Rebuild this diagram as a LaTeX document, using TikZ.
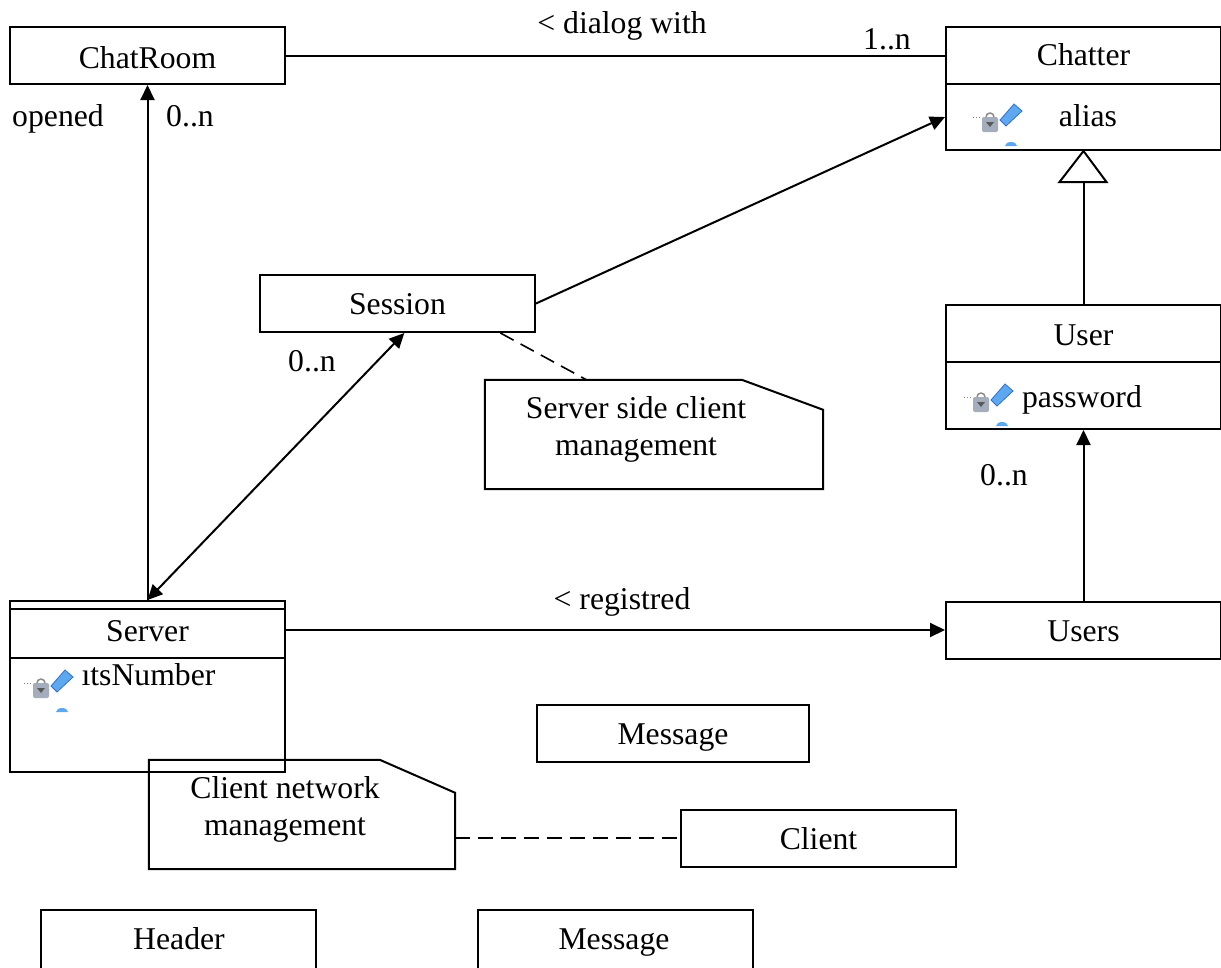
\documentclass[tikz,border=0pt]{standalone}
\usepackage{fontspec}
\setmainfont{Liberation Serif}
\usetikzlibrary{arrows.meta,calc}
\definecolor{keyblue}{HTML}{5EA8F0}
\definecolor{keyedge}{HTML}{2F6FD0}
\definecolor{lockgray}{HTML}{A3ADBB}
\tikzset{
	x=1pt,y=-1pt,
	>={Triangle[length=15pt,width=14pt]},
	every node/.style={font=\fontsize{31.7}{36}\selectfont,inner sep=0pt,anchor=base},
	umlbox/.style={draw,line width=2pt,minimum width=275pt,minimum height=57pt,anchor=center},
	notearea/.style={minimum height=109pt,anchor=center},
	link/.style={line width=2pt},
	dashlink/.style={line width=1.6pt,dash pattern=on 15pt off 8pt},
	attricon/.pic={
		\draw[gray,line width=1pt,dotted] (-9,5) -- (0,5);
		\fill[lockgray,rounded corners=2pt] (0,5) rectangle (16,20);
		\fill[black!65] (4,10) -- (12,10) -- (8,15) -- cycle;
		\draw[black!45,line width=1.5pt] (4,5) arc (180:360:4);
		\fill[keyblue,draw=keyedge,line width=.8pt] (18,8) -- (32,-8) -- (40,-1) -- (24,14) -- cycle;
		\fill[keyblue] (23,34) arc[start angle=180,end angle=360,x radius=6,y radius=4] -- cycle;
	}
}
\begin{document}
\begin{tikzpicture}
	\clip (0,0) rectangle (1221,967);
	\fill[white] (0,0) rectangle (1221,967);
	\node[umlbox] (chatroom) at (147.5,55.5) {};
	\node (chatroomname) at (147.5,68) {ChatRoom};
	\node[umlbox] (chatter) at (1083.5,55.5) {};
	\node (chattername) at (1083.5,65) {Chatter};
	\node[umlbox,minimum height=66pt] (chatterattr) at (1083.5,117) {};
	\node (aliasname) at (1088,126) {alias};
	\node[umlbox] (session) at (397.5,303.5) {};
	\node (sessionname) at (397.5,314) {Session};
	\node[umlbox] (user) at (1083.5,333.5) {};
	\node (username) at (1083.5,345) {User};
	\node[umlbox,minimum height=67pt] (userattr) at (1083.5,395.5) {};
	\node (passwordname) at (1082,407) {password};
	\node[umlbox] (users) at (1083.5,630) {};
	\node (usersname) at (1083.5,641) {Users};
	\node[umlbox,minimum height=171pt] (server) at (147.5,686.5) {};
	\node (servername) at (147.5,641) {Server};
	\node (numbername) at (148.5,685) {ıtsNumber};
	\draw[line width=2pt] (server.north west) ++(0,9) -- ++(275,0);
	\draw[line width=2pt] (server.north west) ++(0,58) -- ++(275,0);
	\node[umlbox,minimum width=272pt] (message) at (673,733) {};
	\node (messagename) at (673,744) {Message};
	\node[umlbox] (client) at (818.5,838) {};
	\node (clientname) at (818.5,849) {Client};
	\node[umlbox,minimum height=80pt] (header) at (178.5,950) {};
	\node (headername) at (179,949) {Header};
	\node[umlbox,minimum height=80pt] (netmessage) at (615,950) {};
	\node (netmessagename) at (614,949) {Message};
	\foreach \x/\y in {982/112,973/392,33/678}{
		\fill[white] (\x-10,\y-9) rectangle (\x+41,\y+33);
		\pic at (\x,\y) {attricon};}
	\node[notearea,minimum width=338pt] (sessionnote) at (654,434.5) {};
	\draw[link] (sessionnote.south west) -- (sessionnote.north west) -- ++(257,0) -- ($(sessionnote.north east)+(0,30)$) -- (sessionnote.south east) -- cycle;
	\node (sessionnotea) at (636,418) {Server side client};
	\node (sessionnoteb) at (636,455) {management};
	\node[notearea,minimum width=306pt] (clientnote) at (302,814.5) {};
	\draw[link] (clientnote.south west) -- (clientnote.north west) -- ++(231,0) -- ($(clientnote.north east)+(0,33)$) -- (clientnote.south east) -- cycle;
	\node (clientnotea) at (285,798) {Client network};
	\node (clientnoteb) at (285,835) {management};
	\draw[link] (chatroom.east) -- (chatter.west);
	\draw[link,->] (server.north) -- (chatroom.south);
	\draw[link,->] (session.east) -- (chatterattr.west);
	\draw[link,<->] (server.north) -- (session.-77);
	\draw[link,->] (server.east |- users.west) -- (users.west);
	\draw[link,->] (users.north) -- (userattr.south);
	\draw[dashlink] (session.-16) -- (sessionnote.141.7);
	\draw[dashlink] (clientnote.east |- client.west) -- (client.west);
	\coordinate (apex) at (chatterattr.south);
	\draw[link] (apex) -- ++(-24,31) -- ++(47,0) -- cycle;
	\draw[link] (user.north) -- ($(apex)+(0,31)$);
	\node (dialoglabel) at (622,33) {< dialog with};
	\node (chattermult) at (887,49) {1..n};
	\node (openedlabel) at (58,126) {opened};
	\node (chatroommult) at (190,126) {0..n};
	\node (sessionmult) at (312,371) {0..n};
	\node (usermult) at (1004,485) {0..n};
	\node (registredlabel) at (622,609) {< registred};
\end{tikzpicture}
\end{document}
